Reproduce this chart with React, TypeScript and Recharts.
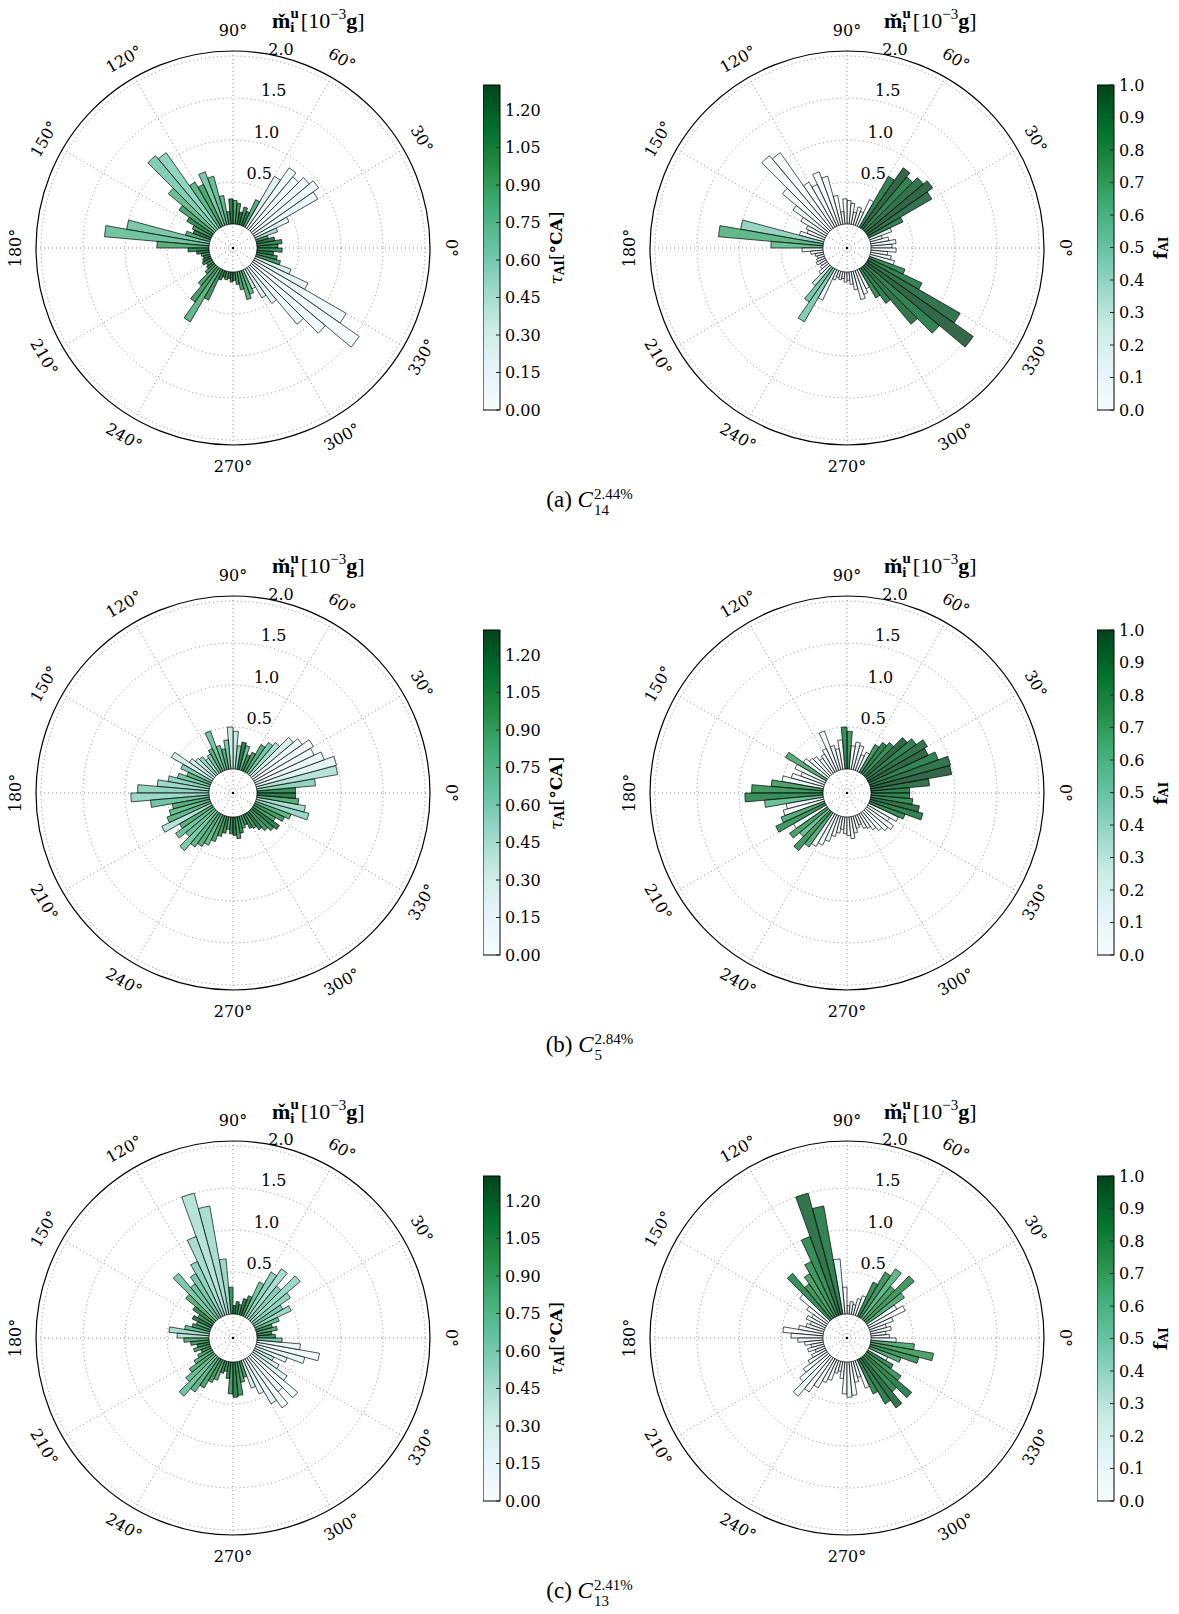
import React from 'react';
import {
  RadarChart, Radar, PolarGrid, PolarAngleAxis, PolarRadiusAxis,
  BarChart, Bar, XAxis, YAxis,
} from 'recharts';

// ---------- data ----------
const BIN_CENTERS = [
  2.5, 7.5, 12.5, 17.5, 22.5, 27.5, 32.5, 37.5, 42.5, 47.5, 52.5, 57.5,
  62.5, 67.5, 72.5, 77.5, 82.5, 87.5, 92.5, 97.5, 102.5, 107.5, 112.5, 117.5,
  122.5, 127.5, 132.5, 137.5, 142.5, 147.5, 152.5, 157.5, 162.5, 167.5, 172.5, 177.5,
  182.5, 187.5, 192.5, 197.5, 202.5, 207.5, 212.5, 217.5, 222.5, 227.5, 232.5, 237.5,
  242.5, 247.5, 252.5, 257.5, 262.5, 267.5, 272.5, 277.5, 282.5, 287.5, 292.5, 297.5,
  302.5, 307.5, 312.5, 317.5, 322.5, 327.5, 332.5, 337.5, 342.5, 347.5, 352.5, 357.5,
];

const ANGLE_TICKS = [0, 30, 60, 90, 120, 150, 180, 210, 240, 270, 300, 330];
const RADIUS_TICKS = [0.5, 1.0, 1.5, 2.0];
const TAU_TICKS = [0, 0.15, 0.3, 0.45, 0.6, 0.75, 0.9, 1.05, 1.2];
const F_TICKS = [0, 0.1, 0.2, 0.3, 0.4, 0.5, 0.6, 0.7, 0.8, 0.9, 1.0];
const TAU_MAX = 1.3;
const F_MAX = 1.0;
const R_MAX = 2.06;

// m_i^u per angular bin, case (a)
const MASS_A = [
  0.25, 0.30, 0.22, 0.15, 0.28, 0.45, 0.88, 0.96, 0.90, 0.82, 0.88, 0.70,
  0.35, 0.18, 0.22, 0.15, 0.25, 0.28, 0.30, 0.15, 0.35, 0.60, 0.68, 0.55,
  0.62, 1.10, 1.15, 0.72, 0.50, 0.35, 0.25, 0.22, 0.30, 1.00, 1.25, 0.62,
  0.25, 0.15, 0.10, 0.08, 0.10, 0.12, 0.08, 0.10, 0.15, 0.30, 0.50, 0.73,
  0.40, 0.12, 0.08, 0.10, 0.08, 0.12, 0.10, 0.15, 0.22, 0.35, 0.30, 0.25,
  0.40, 0.52, 0.90, 1.15, 1.55, 1.27, 0.70, 0.45, 0.30, 0.25, 0.20, 0.30,
];
const TAU_A = [
  1.15, 1.10, 1.20, 1.00, 0.50, 0.20, 0.15, 0.10, 0.12, 0.08, 0.10, 0.25,
  0.90, 1.20, 1.10, 1.25, 1.10, 0.95, 1.20, 1.00, 0.85, 0.80, 0.70, 0.95,
  0.85, 0.60, 0.65, 0.80, 0.95, 1.10, 1.00, 1.20, 0.90, 0.70, 0.75, 0.90,
  1.10, 1.20, 1.00, 1.15, 1.20, 1.10, 1.00, 1.20, 1.05, 0.95, 1.00, 0.85,
  1.05, 1.10, 1.20, 1.00, 1.15, 1.20, 1.10, 1.00, 0.95, 0.90, 0.85, 0.30,
  0.25, 0.20, 0.15, 0.12, 0.05, 0.10, 0.20, 0.30, 1.00, 1.10, 1.20, 1.05,
];
const F_A = [
  0.05, 0.10, 0.00, 0.05, 0.20, 0.90, 0.95, 1.00, 0.95, 0.90, 1.00, 0.90,
  0.05, 0.00, 0.10, 0.00, 0.05, 0.00, 0.10, 0.05, 0.00, 0.02, 0.00, 0.05,
  0.00, 0.00, 0.03, 0.05, 0.10, 0.00, 0.05, 0.00, 0.10, 0.45, 0.65, 0.60,
  0.10, 0.00, 0.05, 0.00, 0.10, 0.05, 0.00, 0.05, 0.10, 0.30, 0.55, 0.50,
  0.10, 0.00, 0.05, 0.00, 0.10, 0.00, 0.05, 0.00, 0.10, 0.05, 0.00, 0.05,
  0.85, 0.90, 0.95, 0.90, 1.00, 0.95, 0.90, 0.85, 0.10, 0.05, 0.00, 0.05,
];

// case (b)
const MASS_B = [
  0.46, 0.70, 0.98, 0.99, 0.87, 0.78, 0.82, 0.72, 0.65, 0.50, 0.45, 0.38,
  0.25, 0.20, 0.30, 0.33, 0.28, 0.45, 0.50, 0.35, 0.25, 0.30, 0.50, 0.30,
  0.25, 0.22, 0.28, 0.30, 0.35, 0.56, 0.40, 0.30, 0.40, 0.50, 0.62, 0.85,
  0.93, 0.70, 0.45, 0.50, 0.55, 0.65, 0.45, 0.55, 0.45, 0.61, 0.50, 0.45,
  0.40, 0.33, 0.25, 0.20, 0.15, 0.20, 0.22, 0.26, 0.20, 0.15, 0.12, 0.18,
  0.20, 0.25, 0.30, 0.35, 0.39, 0.30, 0.39, 0.45, 0.65, 0.59, 0.50, 0.46,
];
const TAU_B = [
  1.10, 0.60, 0.45, 0.20, 0.15, 0.10, 0.05, 0.10, 0.30, 0.50, 0.70, 0.90,
  1.00, 1.10, 0.80, 1.20, 0.60, 0.40, 0.35, 0.70, 0.90, 0.80, 0.75, 0.90,
  0.70, 0.50, 0.60, 0.40, 0.35, 0.30, 0.65, 0.85, 0.70, 0.60, 0.55, 0.60,
  0.55, 0.75, 0.90, 0.80, 0.85, 0.45, 0.90, 0.75, 0.80, 0.70, 0.85, 0.90,
  0.80, 0.95, 1.00, 1.10, 0.90, 1.10, 1.20, 1.00, 1.10, 0.90, 1.00, 1.10,
  1.00, 1.20, 1.05, 1.10, 1.20, 0.95, 1.00, 0.85, 0.55, 0.50, 0.90, 1.20,
];
const F_B = [
  0.90, 0.95, 1.00, 0.95, 0.90, 1.00, 0.95, 0.90, 1.00, 0.85, 0.90, 0.80,
  0.10, 0.00, 0.05, 0.10, 0.00, 0.80, 0.85, 0.05, 0.00, 0.10, 0.05, 0.05,
  0.10, 0.00, 0.05, 0.10, 0.00, 0.70, 0.05, 0.10, 0.00, 0.10, 0.75, 0.80,
  0.85, 0.60, 0.10, 0.05, 0.70, 0.80, 0.10, 0.75, 0.60, 0.80, 0.70, 0.10,
  0.05, 0.10, 0.00, 0.05, 0.00, 0.10, 0.00, 0.05, 0.10, 0.00, 0.05, 0.00,
  0.05, 0.00, 0.10, 0.05, 0.00, 0.10, 0.05, 0.85, 0.90, 0.95, 0.85, 0.90,
];

// case (c)
const MASS_C = [
  0.22, 0.18, 0.25, 0.20, 0.30, 0.48, 0.40, 0.55, 0.76, 0.52, 0.72, 0.62,
  0.45, 0.25, 0.20, 0.12, 0.15, 0.10, 0.32, 0.66, 1.31, 1.50, 1.00, 0.72,
  0.60, 0.50, 0.72, 0.45, 0.30, 0.20, 0.25, 0.18, 0.22, 0.30, 0.48, 0.38,
  0.30, 0.22, 0.15, 0.20, 0.12, 0.18, 0.25, 0.35, 0.45, 0.62, 0.50, 0.40,
  0.30, 0.25, 0.15, 0.12, 0.20, 0.38, 0.42, 0.40, 0.25, 0.20, 0.35, 0.45,
  0.62, 0.73, 0.55, 0.72, 0.50, 0.35, 0.25, 0.40, 0.60, 0.76, 0.52, 0.30,
];
const TAU_C = [
  1.00, 1.10, 0.90, 1.05, 0.80, 0.55, 0.70, 0.60, 0.55, 0.65, 0.50, 0.60,
  0.75, 1.10, 1.20, 1.00, 1.15, 1.20, 1.05, 0.55, 0.50, 0.45, 0.50, 0.60,
  0.70, 0.75, 0.70, 0.90, 1.10, 1.00, 1.20, 0.95, 1.05, 0.80, 0.50, 0.45,
  0.90, 1.00, 1.10, 0.95, 1.00, 0.90, 0.85, 0.90, 0.80, 0.75, 0.85, 0.95,
  1.00, 0.90, 1.10, 1.00, 1.10, 1.00, 1.15, 1.05, 0.95, 1.00, 0.30, 0.20,
  0.15, 0.05, 0.20, 0.10, 0.25, 0.30, 0.40, 0.20, 0.15, 0.08, 0.15, 0.70,
];
const F_C = [
  0.05, 0.10, 0.00, 0.05, 0.10, 0.00, 0.05, 0.70, 0.80, 0.75, 0.65, 0.80,
  0.85, 0.10, 0.00, 0.05, 0.10, 0.05, 0.00, 0.15, 0.90, 0.95, 0.85, 0.80,
  0.75, 0.80, 0.85, 0.05, 0.00, 0.05, 0.10, 0.00, 0.05, 0.10, 0.00, 0.05,
  0.10, 0.00, 0.05, 0.10, 0.00, 0.05, 0.10, 0.00, 0.05, 0.10, 0.00, 0.05,
  0.10, 0.00, 0.05, 0.10, 0.00, 0.05, 0.10, 0.00, 0.05, 0.10, 0.05, 0.85,
  0.90, 0.95, 0.85, 0.90, 0.80, 0.85, 0.10, 0.70, 0.80, 0.75, 0.70, 0.10,
];

const ROW_MASS = [MASS_A, MASS_B, MASS_C];
const ROW_TAU = [TAU_A, TAU_B, TAU_C];
const ROW_F = [F_A, F_B, F_C];
const CAPTION_LETTERS = ['(a)', '(b)', '(c)'];
const CAPTION_SUBS = ['14', '5', '13'];
const CAPTION_SUPS = ['2.44%', '2.84%', '2.41%'];

// ---------- style / layout ----------
const BUGN: [number, string][] = [
  [0, '#f7fcfd'], [0.125, '#e5f5f9'], [0.25, '#ccece6'], [0.375, '#99d8c9'],
  [0.5, '#66c2a4'], [0.625, '#41ae76'], [0.75, '#238b45'], [0.875, '#006d2c'], [1, '#00441b'],
];
const FONT = 'DejaVu Serif';
const TEX = 'Liberation Serif';
const HOLE = 24;
const OUTER = 197;
const BOX = 500;
const ROW_Y0 = 247.7;
const ROW_DY = 545.3;
const LEFT_CX = 232.7;
const RIGHT_CX = 846.7;
const CB_PAD = 12;
const CB_W = 17;
const CB_AXIS = 55;
const CB_H = 325;

function hex(h: string) {
  return [1, 3, 5].map((i) => parseInt(h.slice(i, i + 2), 16));
}
function bugn(t: number) {
  const v = Math.max(0, Math.min(1, t));
  for (let i = 1; i < BUGN.length; i++) {
    if (v <= BUGN[i][0]) {
      const [t0, c0] = BUGN[i - 1];
      const [t1, c1] = BUGN[i];
      const f = (v - t0) / (t1 - t0);
      const a = hex(c0), b = hex(c1);
      const c = a.map((x, k) => Math.round(x + (b[k] - x) * f));
      return `rgb(${c[0]},${c[1]},${c[2]})`;
    }
  }
  return BUGN[BUGN.length - 1][1];
}

function Wedges(props: any) {
  const { points, cmax } = props;
  if (!points || !points.length) return null;
  const half = 180 / points.length;
  const cx = points[0].cx;
  const cy = points[0].cy;
  const X = (r: number, a: number) => cx + r * Math.cos(a);
  const Y = (r: number, a: number) => cy - r * Math.sin(a);
  return (
    <g>
      {ANGLE_TICKS.map((a) => (
        <line key={`s${a}`} x1={cx} y1={cy} x2={X(HOLE, (a * Math.PI) / 180)} y2={Y(HOLE, (a * Math.PI) / 180)}
          stroke="#8a8a8a" strokeWidth={1} strokeDasharray="1 3" />
      ))}
      {points.map((pt: any, i: number) => {
        const a0 = ((pt.angle - half) * Math.PI) / 180;
        const a1 = ((pt.angle + half) * Math.PI) / 180;
        const ro = pt.radius;
        const ri = HOLE;
        const d = `M${X(ri, a0)},${Y(ri, a0)} L${X(ro, a0)},${Y(ro, a0)} A${ro},${ro} 0 0 0 ${X(ro, a1)},${Y(ro, a1)} L${X(ri, a1)},${Y(ri, a1)} A${ri},${ri} 0 0 1 ${X(ri, a0)},${Y(ri, a0)} Z`;
        return (
          <path key={i} d={d} fill={bugn(pt.payload.c / cmax)} fillOpacity={0.8}
            stroke="#000" strokeOpacity={0.85} strokeWidth={0.8} strokeLinejoin="miter" />
        );
      })}
      <circle cx={cx} cy={cy} r={1.3} fill="#000" />
    </g>
  );
}

function AngleTick(props: any) {
  const { x, y, payload } = props;
  const a = payload.value;
  const rot = a <= 180 ? a - 90 : a - 270;
  return (
    <text x={x} y={y} transform={`rotate(${-rot} ${x} ${y})`} textAnchor="middle" dominantBaseline="central"
      fontSize={16} fontFamily={FONT} fill="#000">{`${a}°`}</text>
  );
}

function RadiusTick(props: any) {
  const { x, y, payload } = props;
  return (
    <text x={x + 2} y={y - 4} textAnchor="start" fontSize={16} fontFamily={FONT} fill="#000">
      {Number(payload.value).toFixed(1)}
    </text>
  );
}

function PolarPlot({ cx, cy, mass, color, cmax }: { cx: number; cy: number; mass: number[]; color: number[]; cmax: number }) {
  const data = BIN_CENTERS.map((a, i) => ({ angle: a, m: mass[i], c: color[i] }));
  return (
    <div style={{ position: 'absolute', left: cx - BOX / 2, top: cy - BOX / 2, width: BOX, height: BOX }}>
      <RadarChart width={BOX} height={BOX} data={data} cx={BOX / 2} cy={BOX / 2}
        innerRadius={HOLE} outerRadius={OUTER} startAngle={0} endAngle={360}
        margin={{ top: 0, right: 0, bottom: 0, left: 0 }}>
        <PolarGrid gridType="circle" polarAngles={ANGLE_TICKS} stroke="#8a8a8a" strokeDasharray="1 3" strokeWidth={1} />
        <PolarAngleAxis dataKey="angle" type="number" domain={[0, 360]} ticks={ANGLE_TICKS as any}
          tickSize={21} tickLine={false} axisLineType="circle"
          axisLine={{ stroke: '#000', strokeWidth: 1.2 }} tick={AngleTick} />
        <PolarRadiusAxis angle={80} type="number" domain={[0, R_MAX]} ticks={RADIUS_TICKS as any}
          axisLine={false} tickLine={false} tick={RadiusTick} />
        <Radar dataKey="m" isAnimationActive={false} shape={(p: any) => <Wedges {...p} cmax={cmax} />} />
      </RadarChart>
    </div>
  );
}

function CbTick(props: any) {
  const { x, y, payload, digits } = props;
  return (
    <g>
      <line x1={x - 5 - 4} x2={x - 5} y1={y} y2={y} stroke="#222" strokeWidth={1} />
      <text x={x} y={y} dominantBaseline="central" textAnchor="start" fontSize={16} fontFamily={FONT} fill="#000">
        {Number(payload.value).toFixed(digits)}
      </text>
    </g>
  );
}

function ColorBar({ left, top, max, ticks, digits, id }: { left: number; top: number; max: number; ticks: number[]; digits: number; id: string }) {
  const data = [{ k: 'cb', v: max }];
  return (
    <div style={{ position: 'absolute', left, top: top - CB_PAD }}>
      <BarChart width={CB_W + CB_AXIS} height={CB_H + 2 * CB_PAD} data={data}
        margin={{ top: CB_PAD, bottom: CB_PAD, left: 0, right: 0 }} barCategoryGap={0}>
        <defs>
          <linearGradient id={id} x1="0" y1="1" x2="0" y2="0">
            {BUGN.map(([o, c]) => <stop key={o} offset={o} stopColor={c} />)}
          </linearGradient>
        </defs>
        <XAxis dataKey="k" hide />
        <YAxis type="number" orientation="right" domain={[0, max]} ticks={ticks} interval={0}
          width={CB_AXIS} axisLine={false} tickLine={false} tickSize={0} tickMargin={5}
          tick={(p: any) => <CbTick {...p} digits={digits} />} />
        <Bar dataKey="v" fill={`url(#${id})`} stroke="#000" strokeWidth={1} isAnimationActive={false} />
      </BarChart>
    </div>
  );
}

function Title({ x, y }: { x: number; y: number }) {
  return (
    <text x={x} y={y} fontSize={22} fontFamily={TEX} fill="#000">
      <tspan fontWeight="bold">{'m\u030C'}</tspan>
      <tspan fontWeight="bold" fontSize={15} dy={4}>i</tspan>
      <tspan fontWeight="bold" fontSize={15} dx={-4} dy={-14}>u</tspan>
      <tspan dx={2} dy={10}>[10</tspan>
      <tspan fontSize={15} dy={-9}>−3</tspan>
      <tspan fontWeight="bold" dy={9}>g</tspan>
      <tspan>]</tspan>
    </text>
  );
}

export default function App() {
  return (
    <div style={{ position: 'absolute', left: 0, top: 0, width: 1179, height: 1614, background: '#fff', fontFamily: FONT }}>
      {ROW_MASS.map((mass, r) => {
        const cy = ROW_Y0 + r * ROW_DY;
        return (
          <React.Fragment key={r}>
            <PolarPlot cx={LEFT_CX} cy={cy} mass={mass} color={ROW_TAU[r]} cmax={TAU_MAX} />
            <PolarPlot cx={RIGHT_CX} cy={cy} mass={mass} color={ROW_F[r]} cmax={F_MAX} />
            <ColorBar left={483} top={85 + r * ROW_DY} max={TAU_MAX} ticks={TAU_TICKS} digits={2} id={`gt${r}`} />
            <ColorBar left={1097} top={85 + r * ROW_DY} max={F_MAX} ticks={F_TICKS} digits={1} id={`gf${r}`} />
          </React.Fragment>
        );
      })}
      <svg width={1179} height={1614} style={{ position: 'absolute', left: 0, top: 0, pointerEvents: 'none' }}>
        {ROW_MASS.map((_, r) => {
          const dy = r * ROW_DY;
          const subW = CAPTION_SUBS[r].length * 7.5;
          return (
            <g key={r}>
              <Title x={272} y={28 + dy} />
              <Title x={884} y={28 + dy} />
              <text x={556} y={248 + dy} transform={`rotate(-90 556 ${248 + dy})`} textAnchor="middle"
                dominantBaseline="central" fontFamily={FONT} fontSize={17} fill="#000">
                <tspan fontStyle="italic">τ</tspan>
                <tspan fontSize={12} fontWeight="bold" dy={4}>AI</tspan>
                <tspan dy={-4}>[</tspan>
                <tspan fontWeight="bold">°CA</tspan>
                <tspan>]</tspan>
              </text>
              <text x={1160} y={248 + dy} transform={`rotate(-90 1160 ${248 + dy})`} textAnchor="middle"
                dominantBaseline="central" fontFamily={FONT} fontSize={18} fill="#000">
                <tspan fontWeight="bold">f</tspan>
                <tspan fontSize={12} fontWeight="bold" dy={4}>AI</tspan>
              </text>
              <text x={589.5} y={507 + dy} textAnchor="middle" fontFamily={TEX} fontSize={23} fill="#000">
                <tspan>{CAPTION_LETTERS[r]} </tspan>
                <tspan fontStyle="italic">C</tspan>
                <tspan fontSize={15} dx={1} dy={8}>{CAPTION_SUBS[r]}</tspan>
                <tspan fontSize={15} dx={-subW} dy={-16}>{CAPTION_SUPS[r]}</tspan>
              </text>
            </g>
          );
        })}
      </svg>
    </div>
  );
}
